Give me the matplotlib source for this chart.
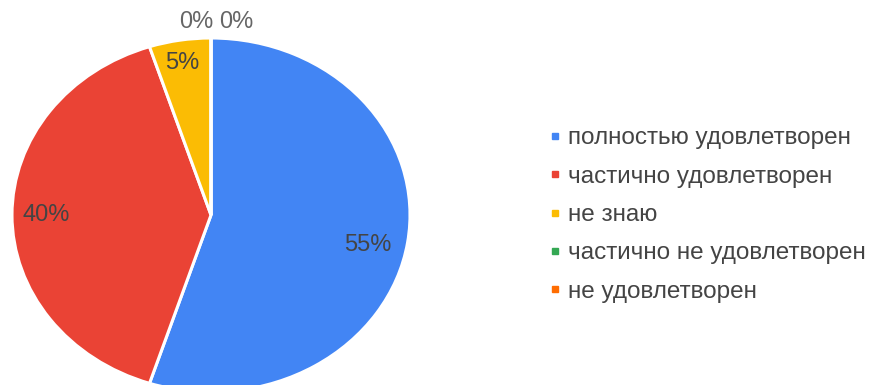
import matplotlib.pyplot as plt
from matplotlib.lines import Line2D

plt.rcParams['font.family'] = ['Liberation Sans', 'DejaVu Sans']

### DATA ###
categories = ['полностью удовлетворен', 'частично удовлетворен', 'не знаю',
              'частично не удовлетворен', 'не удовлетворен']
values = [55, 40, 5, 0, 0]
colors = ['#4285F4', '#EA4335', '#FBBC04', '#34A853', '#FF6D01']

fig = plt.figure(figsize=(8.76, 3.85), dpi=100)
# pie is stretched a bit horizontally in the original, so aspect stays auto
ax = fig.add_axes([12 / 876, -7 / 385, 398 / 876, 354 / 385])

wedges, texts, autotexts = ax.pie(
    values, colors=colors, startangle=90, counterclock=False,
    autopct='%1.0f%%', pctdistance=0.83,
    wedgeprops=dict(edgecolor='white', linewidth=2.2),
    textprops=dict(color='#444444', fontsize=17))
ax.set_xlim(-1, 1)
ax.set_ylim(-1, 1)
ax.set_aspect('auto')

# google-style placement: nudge the big labels a little
autotexts[0].set_position((0.79, -0.17))
autotexts[2].set_position((-0.145, 0.86))

# zero slices get their labels just above the top of the pie
zero_x = [-0.076, 0.125]
k = 0
for v, t in zip(values, autotexts):
    if v == 0:
        t.set_position((zero_x[k], 1.09))
        t.set_color('#666666')
        k += 1

handles = [Line2D([], [], marker='s', linestyle='', markersize=5,
                  markerfacecolor=c, markeredgecolor=c) for c in colors]
fig.legend(handles, categories, loc='center left',
           bbox_to_anchor=(550 / 876, 1 - 215 / 385), frameon=False,
           fontsize=17.5, labelcolor='#444444', handlelength=0.45,
           handletextpad=0.3, labelspacing=0.67, borderpad=0,
           borderaxespad=0)

plt.savefig('out.png', dpi=100)
